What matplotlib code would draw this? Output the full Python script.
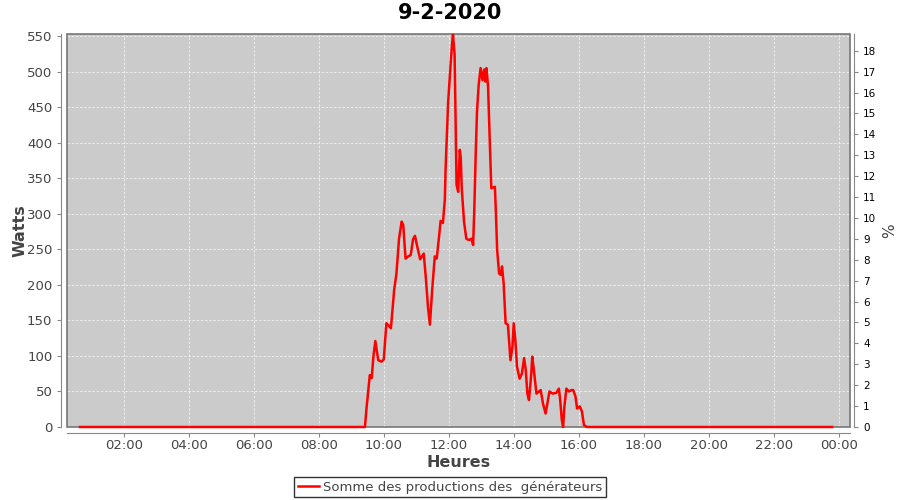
import matplotlib
matplotlib.use("Agg")
import matplotlib.pyplot as plt
from matplotlib.patches import Rectangle

# heures decimales et puissance en watts
heures = [0.65, 3.0, 7.0, 9.0, 9.42,
          9.47, 9.57, 9.63, 9.68, 9.74, 9.83, 9.93, 10.0, 10.08, 10.22,
          10.32, 10.39, 10.47, 10.55, 10.6, 10.67, 10.75, 10.83, 10.9, 10.96,
          11.03, 11.12, 11.23, 11.30, 11.36, 11.42, 11.49, 11.57, 11.63, 11.69,
          11.75, 11.82, 11.88, 11.9, 11.98, 12.05, 12.1, 12.13, 12.18, 12.21,
          12.24, 12.29, 12.34, 12.37, 12.40, 12.47, 12.54, 12.62, 12.70, 12.75,
          12.79, 12.83, 12.87, 12.92, 12.98, 13.04, 13.09, 13.13, 13.16, 13.21,
          13.26, 13.31, 13.42, 13.45, 13.49, 13.55, 13.6, 13.64, 13.69, 13.75,
          13.82, 13.9, 13.96, 14.0, 14.05, 14.1, 14.18, 14.25, 14.32, 14.37,
          14.42, 14.47, 14.54, 14.57, 14.62, 14.7, 14.78, 14.83, 14.9, 14.98,
          15.02, 15.1, 15.2, 15.31, 15.39, 15.43, 15.48, 15.52, 15.56, 15.62,
          15.7, 15.78, 15.83, 15.9, 15.95, 16.03, 16.1, 16.16, 16.25,
          20.0, 23.8]
watts = [0, 0, 0, 0, 0,
         27, 73, 69, 99, 121, 94, 92, 95, 146, 139,
         193, 216, 265, 289, 284, 237, 240, 242, 264, 269,
         254, 236, 244, 207, 169, 144, 193, 240, 237, 263,
         290, 287, 320, 360, 456, 505, 538, 552, 524, 434,
         341, 331, 390, 378, 336, 289, 265, 263, 265, 256,
         312, 385, 444, 481, 505, 488, 503, 486, 505, 479,
         406, 336, 338, 303, 249, 216, 214, 226, 202, 146,
         144, 94, 113, 146, 122, 85, 68, 75, 97, 80,
         47, 38, 75, 99, 80, 47, 50, 52, 33, 19,
         29, 50, 47, 48, 54, 38, 10, 0, 29, 54,
         50, 52, 52, 43, 26, 29, 22, 3, 0,
         0, 0]

ticks_h = [2, 4, 6, 8, 10, 12, 14, 16, 18, 20, 22, 24]
ticks_w = list(range(0, 551, 50))
ticks_pct = list(range(0, 19))

gris = "#444444"

fig = plt.figure(figsize=(9, 5), dpi=100)
ax = fig.add_axes([67 / 900, 1 - 427 / 500, (850 - 67) / 900, (427 - 34) / 500])
ax.set_facecolor("#cbcbcb")
ax.plot(heures, watts, color="red", lw=1.8, zorder=6, clip_on=False)

ax.set_xlim(0.25, 24.35)
ax.set_ylim(0, 553)
ax.set_xticks(ticks_h)
ax.set_xticklabels(["%02d:00" % (h % 24) for h in ticks_h])
ax.set_yticks(ticks_w)
ax.grid(True, color="#f2f2f2", ls=(0, (3, 2)), lw=0.6)

for s in ["top", "right"]:
    ax.spines[s].set_visible(False)
for s in ["left", "bottom"]:
    ax.spines[s].set_position(("outward", 4))
    ax.spines[s].set_color("#888888")
ax.add_patch(Rectangle((0, 0), 1, 1, transform=ax.transAxes, fill=False,
                       ec="#777777", lw=1.2, clip_on=False, zorder=5))
ax.tick_params(colors="#888888", labelcolor=gris, labelsize=9.5, length=3)
ax.tick_params(axis="x", pad=1.5)

ax2 = ax.twinx()
ax2.set_ylim(0, 553 / 550 * 18.7)
ax2.set_yticks(ticks_pct)
for s in ["top", "left", "bottom"]:
    ax2.spines[s].set_visible(False)
ax2.spines["right"].set_position(("outward", 3))
ax2.spines["right"].set_color("#888888")
ax2.tick_params(colors="#888888", labelcolor="black", labelsize=7.5, length=3)
ax2.set_ylabel("%", color=gris, fontsize=11)
ax2.yaxis.set_label_coords((882 - 67) / 783, 0.5)
ax.set_zorder(ax2.get_zorder() + 1)
ax.patch.set_visible(True)
ax2.patch.set_visible(False)

ax.set_xlabel("Heures", color=gris, fontsize=11.5, fontweight="bold")
ax.xaxis.set_label_coords(0.5, (427 - 455) / 393)
ax.set_ylabel("Watts", color=gris, fontsize=11.5, fontweight="bold")
ax.yaxis.set_label_coords((28 - 67) / 783, 0.5)
fig.text(0.5, 1 - 13 / 500, "9-2-2020", fontsize=15, fontweight="bold",
         ha="center", va="center")

leg = ax.legend(["Somme des productions des  générateurs"], loc="center",
                bbox_to_anchor=(450 / 900, 1 - 487 / 500), bbox_transform=fig.transFigure,
                frameon=True, fancybox=False, fontsize=9.5, handlelength=1.6,
                borderpad=0.3, handletextpad=0.3)
leg.get_frame().set_edgecolor("black")
for t in leg.get_texts():
    t.set_color(gris)

fig.savefig("out.png", dpi=100)
